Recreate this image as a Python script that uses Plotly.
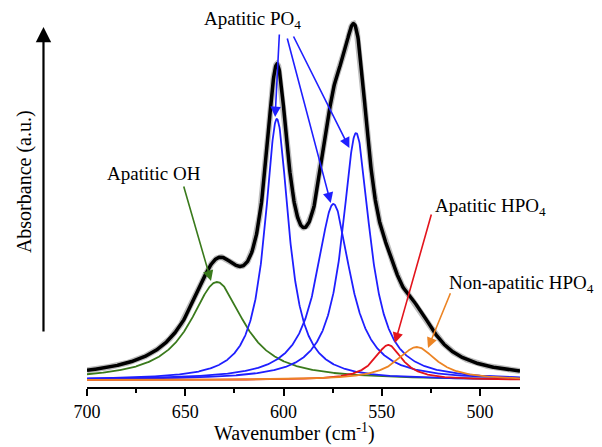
import numpy as np
import plotly.graph_objects as go

# ---- data (band decomposition) ----
band_names = ["Apatitic OH", "Apatitic PO4 (1)", "Apatitic PO4 (2)", "Apatitic PO4 (3)",
              "Apatitic HPO4", "Non-apatitic HPO4"]
band_centers = [633.9, 603.4, 574.6, 563.1, 546.7, 532.2]      # cm-1
band_heights = [0.98, 2.61, 1.76, 2.47, 0.35, 0.33]            # a.u.
band_hwhm = [16.5, 7.3, 10.45, 8.5, 8.6, 12.2]                 # cm-1
band_colors = ["#3a7a1c", "#1f1fff", "#1f1fff", "#1f1fff", "#e3141c", "#ec8424"]
baseline = 0.07
x_ticks = [700, 650, 600, 550, 500]

wn = np.linspace(479.7, 700, 1200)

def lorentz(x, c, h, g):
    return h / (1.0 + ((x - c) / g) ** 2)

comps = [lorentz(wn, c, h, g) for c, h, g in zip(band_centers, band_heights, band_hwhm)]
total = baseline + np.sum(comps, axis=0)

FONT = "Liberation Serif, Times New Roman, serif"
fig = go.Figure()

# experimental spectrum (grey) and fitted envelope (black)
fig.add_trace(go.Scatter(x=wn, y=total, mode="lines",
                         line=dict(color="#bdbdbd", width=6), showlegend=False, hoverinfo="skip"))
for comp, col in zip(comps, band_colors):
    fig.add_trace(go.Scatter(x=wn, y=baseline + comp, mode="lines",
                             line=dict(color=col, width=1.8), showlegend=False))
fig.add_trace(go.Scatter(x=wn, y=total, mode="lines",
                         line=dict(color="black", width=3.5), showlegend=False))

annotations = []
# labels: (text, x [cm-1], y, yref)
labels = [
    ("Apatitic PO<sub>4</sub>", 641.5, 1.0, "paper"),
    ("Apatitic OH", 690.7, 2.14, "y"),
    ("Apatitic HPO<sub>4</sub>", 524.1, 1.80, "y"),
    ("Non-apatitic HPO<sub>4</sub>", 517.0, 1.03, "y"),
]
for txt, lx, ly, yr in labels:
    annotations.append(dict(x=lx, y=ly, xref="x", yref=yr, text=txt, showarrow=False,
                            xanchor="left", yanchor="middle",
                            font=dict(family=FONT, size=19, color="black")))

# arrows: (tail_x, tail_y, band index, dx, dy, color)
arrows = [
    (651.0, 2.02, 0, 3.0, 0.01, band_colors[0]),
    (602.1, 3.54, 1, 0.9, 0.02, band_colors[1]),
    (598.3, 3.50, 2, 1.4, 0.01, band_colors[2]),
    (595.3, 3.52, 3, 3.4, -0.15, band_colors[3]),
    (524.6, 1.74, 4, -3.4, 0.02, band_colors[4]),
    (514.8, 0.953, 5, -5.7, -0.01, band_colors[5]),
]
for tx, ty, i, dx, dy, col in arrows:
    hx = band_centers[i] + dx
    hy = baseline + band_heights[i] + dy
    annotations.append(dict(x=hx, y=hy, xref="x", yref="y", ax=tx, ay=ty, axref="x", ayref="y",
                            text="", showarrow=True, arrowhead=2, arrowsize=1.3,
                            arrowwidth=1.6, arrowcolor=col))

# y-axis arrow and title
annotations.append(dict(x=-0.1005, y=0.981, xref="paper", yref="paper", ax=0, ay=306,
                        text="", showarrow=True, arrowhead=2, arrowsize=1.4, arrowwidth=2.2,
                        arrowcolor="black"))
annotations.append(dict(x=-0.1455, y=0.561, xref="paper", yref="paper", text="Absorbance (a.u.)",
                        showarrow=False, textangle=-90, xanchor="center", yanchor="middle",
                        font=dict(family=FONT, size=20, color="black")))
# x-axis title
annotations.append(dict(x=0.480, y=-0.125, xref="paper", yref="paper",
                        text="Wavenumber (cm<sup>-1</sup>)", showarrow=False,
                        xanchor="center", yanchor="middle",
                        font=dict(family=FONT, size=20, color="black")))

# page has an 8px body margin: shrink the figure so the plot area lands where the reference has it
fig.update_layout(
    width=594, height=439,
    margin=dict(l=79, r=82, t=12, b=60, autoexpand=False),
    plot_bgcolor="white", paper_bgcolor="white",
    showlegend=False,
    annotations=annotations,
    xaxis=dict(range=[700, 479.7], tickvals=x_ticks, ticks="outside", ticklen=7, tickwidth=1.5,
               tickcolor="black", showline=True, linecolor="black", linewidth=1.8,
               showgrid=False, zeroline=False, ticklabelstandoff=0, automargin=False,
               tickfont=dict(family=FONT, size=18, color="black"),
               minor=dict(tickvals=[675, 625, 575, 525], ticks="outside", ticklen=4,
                          tickwidth=1.5, tickcolor="black")),
    yaxis=dict(range=[0, 3.67], visible=False, automargin=False),
)

fig.write_html("out.html")
